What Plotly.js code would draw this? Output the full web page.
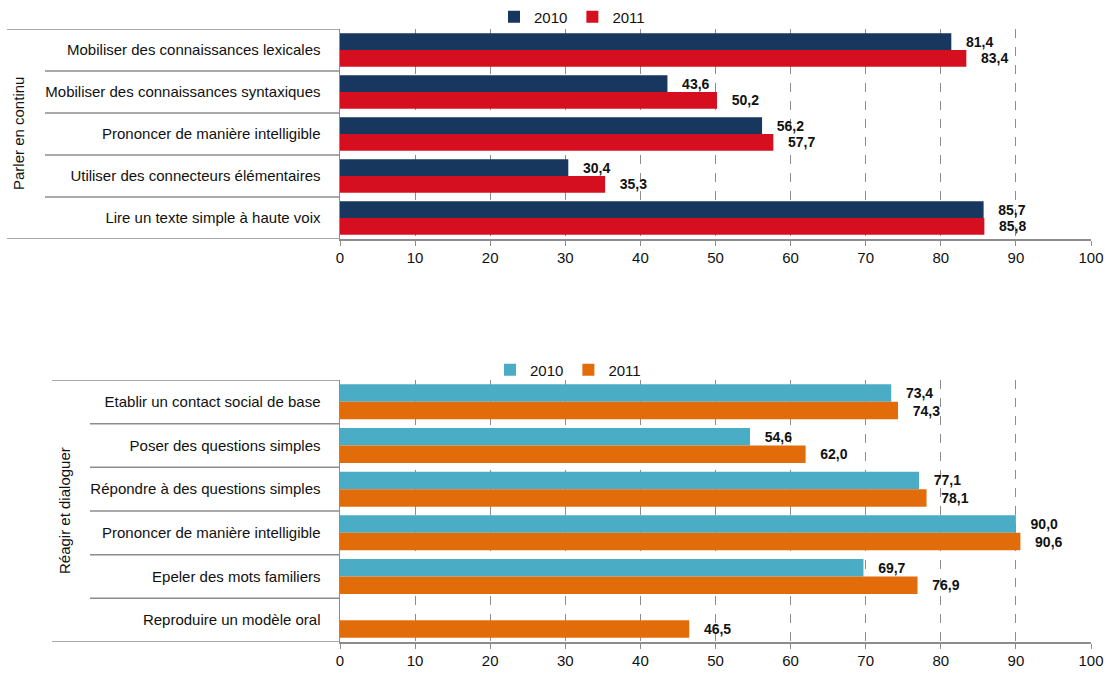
<!DOCTYPE html>
<html><head><meta charset="utf-8">
<script src="https://cdn.plot.ly/plotly-3.0.1.min.js"></script>
<style>html,body{margin:0;padding:0;background:#fff}#c{width:1109px;height:675px}</style>
</head><body><div id="c"></div>
<script>
const catsTop = ["Mobiliser des connaissances lexicales","Mobiliser des connaissances syntaxiques","Prononcer de manière intelligible","Utiliser des connecteurs élémentaires","Lire un texte simple à haute voix"];
const top2010 = [81.4, 43.6, 56.2, 30.4, 85.7];
const top2011 = [83.4, 50.2, 57.7, 35.3, 85.8];
const catsBot = ["Etablir un contact social de base","Poser des questions simples","Répondre à des questions simples","Prononcer de manière intelligible","Epeler des mots familiers","Reproduire un modèle oral"];
const bot2010 = [73.4, 54.6, 77.1, 90.0, 69.7, null];
const bot2011 = [74.3, 62.0, 78.1, 90.6, 76.9, 46.5];
const groupTop = "Parler en continu";
const groupBot = "Réagir et dialoguer";
const seriesNames = ["2010","2011"];
const xTicks = [0,10,20,30,40,50,60,70,80,90,100];

const FONT = "'Liberation Sans Narrow', 'Arial Narrow', 'Liberation Sans', Arial, sans-serif";
const W = 1109, H = 675, L = 340, R = 18, T = 0, B = 33;
const pw = W - L - R, ph = H - T - B;
const px = v => (v - L) / pw;           // pixel x -> paper
const py = v => 1 - (v - T) / ph;        // pixel y -> paper

const lbl = "\u00a0\u00a0\u00a0%{x:.1f}";
function bar(y, x, name, color, xa, ya, leg) {
  return {type:'bar', orientation:'h', y:y, x:x, name:name, xaxis:xa, yaxis:ya, legend:leg,
    marker:{color:color}, texttemplate:lbl, textposition:'outside', cliponaxis:false,
    constraintext:'none', textfont:{family:FONT, size:14, color:'#111', weight:'bold'},
    hoverinfo:'skip'};
}
const data = [
  bar(catsTop, top2010, seriesNames[0], '#17375E', 'x', 'y', 'legend'),
  bar(catsTop, top2011, seriesNames[1], '#D50F1F', 'x', 'y', 'legend'),
  bar(catsBot, bot2010, seriesNames[0], '#4BACC6', 'x2', 'y2', 'legend2'),
  bar(catsBot, bot2011, seriesNames[1], '#E36C0A', 'x2', 'y2', 'legend2'),
];

const xaxisBase = {range:[0,100], tickvals:xTicks, ticktext:xTicks.map(String), showgrid:true, gridcolor:'#8c8c8c', griddash:'dash', gridwidth:1,
  showline:true, linecolor:'#8c8c8c', linewidth:1.5, ticks:'outside', ticklen:5, tickcolor:'#8c8c8c',
  ticklabelstandoff:-1,
  tickfont:{family:FONT, size:15, color:'#111'}, zeroline:false, fixedrange:true};
const yaxisBase = {type:'category', showgrid:false, showline:true, linecolor:'#8c8c8c', linewidth:1.5, ticks:'',
  ticklabelstandoff:15, tickfont:{family:FONT, size:15, color:'#111'}, zeroline:false, fixedrange:true};

const topDom = [py(239), py(29)];
const botDom = [0, py(380)];

const shapes = [];
function sep(ya, n, outerX, innerX) {
  for (let i = 0; i <= n; i++) {
    const x0 = (i === 0 || i === n) ? outerX : innerX;
    shapes.push({type:'line', xref:'paper', yref:ya, x0:px(x0), x1:0, y0:i-0.5, y1:i-0.5,
      line:{color:'#8c8c8c', width:1.5}});
  }
}
sep('y', catsTop.length, 7, 45);
sep('y2', catsBot.length, 52, 90);

const annotations = [
  {text:groupTop, xref:'paper', yref:'paper', x:px(18), y:py(134), textangle:-90, showarrow:false,
   font:{family:FONT, size:15, color:'#111'}, xanchor:'center', yanchor:'middle'},
  {text:groupBot, xref:'paper', yref:'paper', x:px(64), y:py(511), textangle:-90, showarrow:false,
   font:{family:FONT, size:15, color:'#111'}, xanchor:'center', yanchor:'middle'},
];

const legBase = {orientation:'h', xanchor:'center', yanchor:'middle', font:{family:FONT, size:15, color:'#111'},
  bgcolor:'rgba(0,0,0,0)', traceorder:'normal', itemwidth:30, tracegroupgap:0};

const layout = {
  width:W, height:H, margin:{l:L, r:R, t:T, b:B},
  paper_bgcolor:'#fff', plot_bgcolor:'#fff',
  separators:',.',
  barmode:'group', bargap:0.2, bargroupgap:0,
  showlegend:true,
  legend:Object.assign({}, legBase, {x:px(572), y:py(17)}),
  legend2:Object.assign({}, legBase, {x:px(568), y:py(370)}),
  xaxis:Object.assign({}, xaxisBase, {anchor:'y'}),
  yaxis:Object.assign({}, yaxisBase, {domain:topDom, range:[4.5,-0.5], anchor:'x'}),
  xaxis2:Object.assign({}, xaxisBase, {anchor:'y2'}),
  yaxis2:Object.assign({}, yaxisBase, {domain:botDom, range:[5.5,-0.5], anchor:'x2'}),
  shapes:shapes, annotations:annotations,
};
Plotly.newPlot('c', data, layout, {displayModeBar:false, staticPlot:true});
</script></body></html>
